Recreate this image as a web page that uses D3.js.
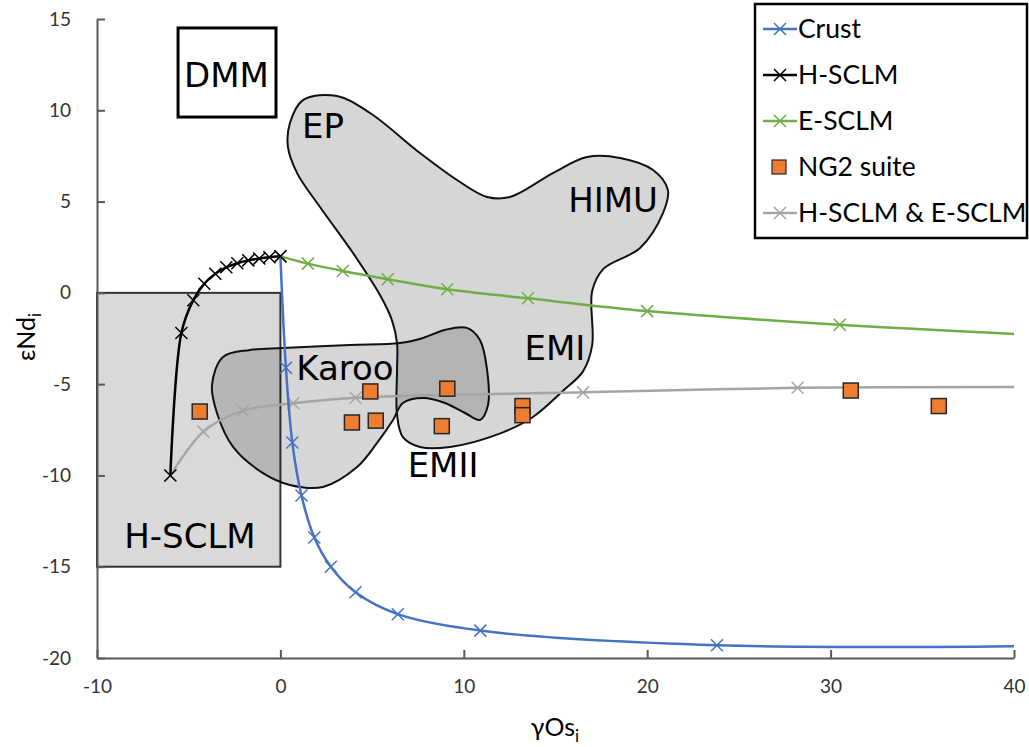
<!DOCTYPE html>
<html>
<head>
<meta charset="utf-8">
<script src="https://cdn.jsdelivr.net/npm/d3@7"></script>
<style>
  body { margin: 0; background: #fff; }
  .tick text { font-family: Lato, "Open Sans", sans-serif; font-size: 19px; fill: #333; }
  .region { font-family: "DejaVu Sans", sans-serif; font-size: 34px; fill: #000; }
  .legendText { font-family: Lato, "Open Sans", sans-serif; font-size: 26.5px; fill: #000; }
  .axisTitle { font-family: Lato, "Open Sans", sans-serif; font-size: 25px; fill: #000; }
</style>
</head>
<body>
<script>
(function(){

//data (gammaOs_i, epsilonNd_i)
var crust = [[0,2],[0.3,-4.1],[0.65,-8.2],[1.15,-11.1],[1.85,-13.4],[2.75,-15.0],[4.1,-16.4],[6.4,-17.6],[10.9,-18.5],[23.8,-19.3],[40,-19.35]];
var hSclm = [[-6,-10],[-5.4,-2.2],[-4.75,-0.4],[-4.15,0.5],[-3.55,1.05],[-2.95,1.4],[-2.35,1.62],[-1.75,1.78],[-1.15,1.88],[-0.6,1.95],[0,2]];
var eSclm = [[0,2],[1.5,1.6],[3.4,1.2],[5.85,0.75],[9.1,0.2],[13.5,-0.3],[20,-1.0],[30.5,-1.75],[40,-2.25]];
var mixSclm = [[-6,-10],[-4.2,-7.6],[-2.05,-6.45],[0.7,-6.05],[4.1,-5.75],[16.5,-5.45],[28.2,-5.2],[40,-5.15]];
var ng2 = [[-4.4,-6.5],[3.9,-7.1],[5.2,-7.0],[4.9,-5.4],[9.1,-5.25],[8.8,-7.3],[13.2,-6.2],[13.2,-6.7],[31.1,-5.35],[35.9,-6.2]];

//field outlines
var bigField = [[0.52,9.3],[1.23,10.56],[3.09,10.78],[4.89,9.85],[7.61,7.66],[9.63,6.18],[11.27,5.25],[12.52,5.25],[14.86,6.56],[16.72,7.44],[18.52,7.39],[20.32,6.73],[21.13,5.63],[20.86,4.37],[19.61,2.46],[17.6,1.3],[17.0,0.1],[17.0,-2.86],[16.5,-4.3],[15.46,-5.32],[13.77,-6.8],[12.03,-7.68],[9.25,-8.44],[7.61,-8.44],[6.68,-7.9],[6.36,-6.69],[6.36,-4.23],[6.36,-2.75],[6.08,-1.49],[5.43,-0.12],[3.96,2.18],[2.16,4.7],[0.91,6.56],[0.41,7.99]];
var karoo = [[-3.73,-5.05],[-3.13,-3.51],[-1.66,-3.13],[0.14,-3.02],[3.8,-2.86],[6.52,-2.75],[7.78,-2.47],[8.97,-2.03],[10.17,-1.92],[10.88,-2.58],[11.27,-4.23],[11.32,-6.14],[10.88,-6.96],[10.07,-6.58],[8.97,-6.03],[7.78,-5.76],[6.68,-6.03],[6.14,-6.96],[5.27,-8.22],[4.18,-9.54],[2.32,-10.63],[0.52,-10.52],[-0.95,-9.87],[-2.58,-8.44],[-3.46,-6.58]];
var hSclmBox = [[-10,0],[0,-15]];
var dmmBox = [[-5.58,14.51],[-0.24,9.63]];

var fieldLabels = ["DMM","EP","HIMU","EMI","EMII","Karoo","H-SCLM"];
var labelX = [-2.94, 2.32, 18.14, 14.97, 8.87, 3.52, -4.93];
var labelY = [11.28, 8.48, 4.43, -3.68, -10.09, -4.77, -13.98];

var xTicks = [-10,0,10,20,30,40];
var yTicks = [15,10,5,0,-5,-10,-15,-20];
var seriesNames = ["Crust","H-SCLM","E-SCLM","NG2 suite","H-SCLM & E-SCLM"];
var seriesColors = ["#4472C4","#000000","#70AD47","#ED7D31","#A5A5A5"];

var width = 1029, height = 747;

var x = d3.scaleLinear().domain([-10,40]).range([97,1014]);
var y = d3.scaleLinear().domain([-20,15]).range([658,19]);

var svg = d3.select("body").append("svg")
  .attr("width", width)
  .attr("height", height);

svg.append("clipPath").attr("id","plotClip")
  .append("rect")
  .attr("x", x(-10)).attr("y", y(15))
  .attr("width", x(40)-x(-10)).attr("height", y(-20)-y(15));

//H-SCLM box
svg.append("rect")
  .attr("x", x(hSclmBox[0][0]))
  .attr("y", y(hSclmBox[0][1]))
  .attr("width", x(hSclmBox[1][0]) - x(hSclmBox[0][0]))
  .attr("height", y(hSclmBox[1][1]) - y(hSclmBox[0][1]))
  .style("fill", "#d9d9d9")
  .style("stroke", "#333")
  .style("stroke-width", 2);

//fields, semi transparent so overlaps get darker
var blob = d3.line()
  .x(function(d){ return x(d[0]); })
  .y(function(d){ return y(d[1]); })
  .curve(d3.curveCatmullRomClosed.alpha(0.5));

[karoo, bigField].forEach(function(f){
  svg.append("path")
    .attr("d", blob(f))
    .style("fill", "rgba(0,0,0,0.16)")
    .style("stroke", "#111")
    .style("stroke-width", 2);
});

//DMM box
svg.append("rect")
  .attr("x", x(dmmBox[0][0]))
  .attr("y", y(dmmBox[0][1]))
  .attr("width", x(dmmBox[1][0]) - x(dmmBox[0][0]))
  .attr("height", y(dmmBox[1][1]) - y(dmmBox[0][1]))
  .style("fill", "#fff")
  .style("stroke", "#000")
  .style("stroke-width", 3);

//field labels
svg.selectAll(".region")
  .data(fieldLabels)
  .enter()
  .append("text")
  .attr("class", "region")
  .attr("x", function(d,i){ return x(labelX[i]); })
  .attr("y", function(d,i){ return y(labelY[i]); })
  .attr("text-anchor", "middle")
  .text(function(d){ return d; });

//axes (plain hyphen for negatives, like the original)
var fmt = function(d){ return String(d); };
var xAxis = d3.axisBottom(x).tickValues(xTicks).tickFormat(fmt).tickSizeInner(-8).tickSizeOuter(0).tickPadding(22);
var yAxis = d3.axisLeft(y).tickValues(yTicks).tickFormat(fmt).tickSizeInner(-8).tickSizeOuter(0).tickPadding(26);

var gx = svg.append("g").attr("transform", "translate(0," + y(-20) + ")").call(xAxis);
var gy = svg.append("g").attr("transform", "translate(" + x(-10) + ",0)").call(yAxis);
[gx, gy].forEach(function(g){
  g.select(".domain").style("stroke", "#595959").style("stroke-width", 2);
  g.selectAll(".tick line").style("stroke", "#595959").style("stroke-width", 2);
});

//curves
var line = d3.line()
  .x(function(d){ return x(d[0]); })
  .y(function(d){ return y(d[1]); })
  .curve(d3.curveCatmullRom.alpha(0.5));

var curves = [mixSclm, crust, eSclm, hSclm];
var curveColors = [seriesColors[4], seriesColors[0], seriesColors[2], seriesColors[1]];
var cross = "M-6,-6L6,6M-6,6L6,-6";

curves.forEach(function(c, k){
  var g = svg.append("g").attr("clip-path", "url(#plotClip)");
  g.append("path")
    .attr("d", line(c))
    .style("fill", "none")
    .style("stroke", curveColors[k])
    .style("stroke-width", 2.5);
  g.selectAll(".mk")
    .data(c.filter(function(d){ return d[0] < 40; }))
    .enter()
    .append("path")
    .attr("transform", function(d){ return "translate(" + x(d[0]) + "," + y(d[1]) + ")"; })
    .attr("d", cross)
    .style("fill", "none")
    .style("stroke", curveColors[k])
    .style("stroke-width", 1.5);
});

//NG2 suite
svg.selectAll(".ng2")
  .data(ng2)
  .enter()
  .append("rect")
  .attr("x", function(d){ return x(d[0]) - 7.5; })
  .attr("y", function(d){ return y(d[1]) - 7.5; })
  .attr("width", 15)
  .attr("height", 15)
  .style("fill", seriesColors[3])
  .style("stroke", "#262626")
  .style("stroke-width", 1.5);

//axis titles
var xt = svg.append("text").attr("class", "axisTitle")
  .attr("x", 555).attr("y", 736).attr("text-anchor", "middle");
xt.append("tspan").text("γOs");
xt.append("tspan").attr("dy", 6).style("font-size", "17px").text("i");

var yt = svg.append("text").attr("class", "axisTitle")
  .attr("transform", "translate(35,337) rotate(-90)")
  .attr("text-anchor", "middle");
yt.append("tspan").text("εNd");
yt.append("tspan").attr("dy", 6).style("font-size", "17px").text("i");

//legend
var legend = svg.append("g");
legend.append("rect")
  .attr("x", 755).attr("y", 4).attr("width", 272).attr("height", 234)
  .style("fill", "#fff").style("stroke", "#000").style("stroke-width", 2.5);

var rows = legend.selectAll(".row")
  .data(seriesNames)
  .enter()
  .append("g")
  .attr("transform", function(d,i){ return "translate(0," + (29 + i * 46) + ")"; });

rows.each(function(d,i){
  var r = d3.select(this);
  if (d == "NG2 suite"){
    r.append("rect").attr("x", 772).attr("y", -7).attr("width", 14).attr("height", 14)
      .style("fill", seriesColors[i]).style("stroke", "#262626").style("stroke-width", 1.2);
  } else {
    r.append("line").attr("x1", 763).attr("x2", 797).attr("y1", 0).attr("y2", 0)
      .style("stroke", seriesColors[i]).style("stroke-width", 2.5);
    r.append("path").attr("transform", "translate(780,0)").attr("d", cross)
      .style("fill", "none").style("stroke", seriesColors[i]).style("stroke-width", 1.5);
  }
  r.append("text").attr("class", "legendText")
    .attr("x", 798).attr("y", 9)
    .text(d);
});

})();
</script>
</body>
</html>
